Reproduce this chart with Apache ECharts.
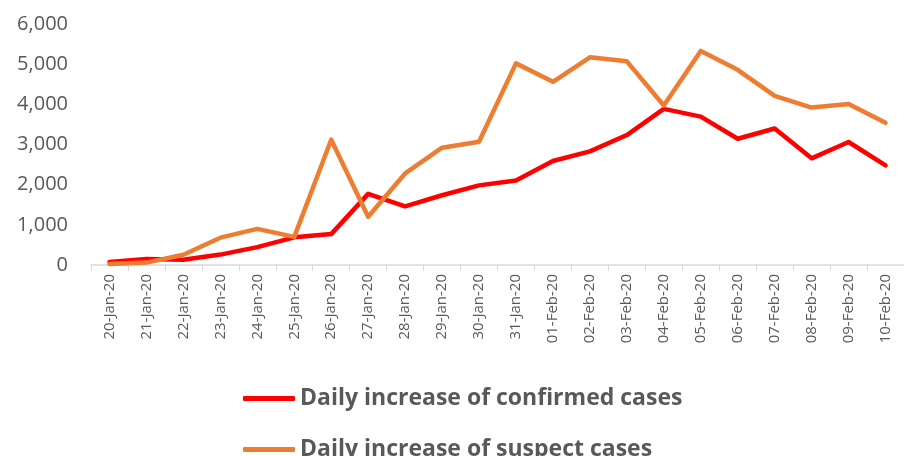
<!DOCTYPE html>
<html>
<head>
<meta charset="utf-8">
<script src="https://cdn.jsdelivr.net/npm/echarts@6/dist/echarts.min.js"></script>
<style>
  html, body { margin: 0; padding: 0; background: #fff; }
  #chart { width: 904px; height: 456px; }
</style>
</head>
<body>
<div id="chart"></div>
<script>
  var dates = ['20-Jan-20', '21-Jan-20', '22-Jan-20', '23-Jan-20', '24-Jan-20', '25-Jan-20',
    '26-Jan-20', '27-Jan-20', '28-Jan-20', '29-Jan-20', '30-Jan-20', '31-Jan-20',
    '01-Feb-20', '02-Feb-20', '03-Feb-20', '04-Feb-20', '05-Feb-20', '06-Feb-20',
    '07-Feb-20', '08-Feb-20', '09-Feb-20', '10-Feb-20'];
  var confirmed = [77, 149, 131, 259, 444, 688, 769, 1771, 1459, 1737, 1982, 2102,
    2590, 2829, 3235, 3887, 3694, 3143, 3399, 2656, 3062, 2478];
  var suspect = [27, 60, 257, 680, 900, 700, 3120, 1200, 2280, 2920, 3070, 5020,
    4560, 5170, 5070, 3970, 5330, 4860, 4210, 3920, 4010, 3540];
  var yTicks = [0, 1000, 2000, 3000, 4000, 5000, 6000];
  var names = ['Daily increase of confirmed cases', 'Daily increase of suspect cases'];

  var myChart = echarts.init(document.getElementById('chart'));
  var font = '"Open Sans", Lato, sans-serif';
  var legendStyle = function (top, name) {
    return {
      left: 238,
      top: top,
      itemWidth: 52,
      itemHeight: 5,
      icon: 'roundRect',
      textStyle: { fontFamily: font, fontSize: 23, fontWeight: 'bold', color: '#595959' },
      data: [name]
    };
  };
  var option = {
    animation: false,
    grid: { left: 91, right: 0, top: 24, bottom: 191 },
    legend: [legendStyle(382, names[0]), legendStyle(433, names[1])],
    xAxis: {
      type: 'category',
      data: dates,
      boundaryGap: true,
      axisLine: { lineStyle: { color: '#d9d9d9', width: 1.5 } },
      axisTick: { show: true, length: 6, lineStyle: { color: '#d9d9d9' } },
      axisLabel: { rotate: 90, interval: 0, margin: 9, fontFamily: font, fontSize: 15, color: '#595959' }
    },
    yAxis: {
      type: 'value',
      min: yTicks[0],
      max: yTicks[yTicks.length - 1],
      interval: 1000,
      splitLine: { show: false },
      axisLine: { show: false },
      axisTick: { show: false },
      axisLabel: {
        margin: 23, fontFamily: font, fontSize: 20, color: '#595959',
        formatter: function (v) { return v.toLocaleString('en-US'); }
      }
    },
    series: [{
      name: names[0],
      type: 'line',
      data: confirmed,
      symbol: 'none',
      color: '#ff0000',
      lineStyle: { width: 4.5, color: '#ff0000', cap: 'round', join: 'round' }
    }, {
      name: names[1],
      type: 'line',
      data: suspect,
      symbol: 'none',
      color: '#ed7d31',
      lineStyle: { width: 4.5, color: '#ed7d31', cap: 'round', join: 'round' }
    }]
  };
  myChart.setOption(option);
</script>
</body>
</html>
